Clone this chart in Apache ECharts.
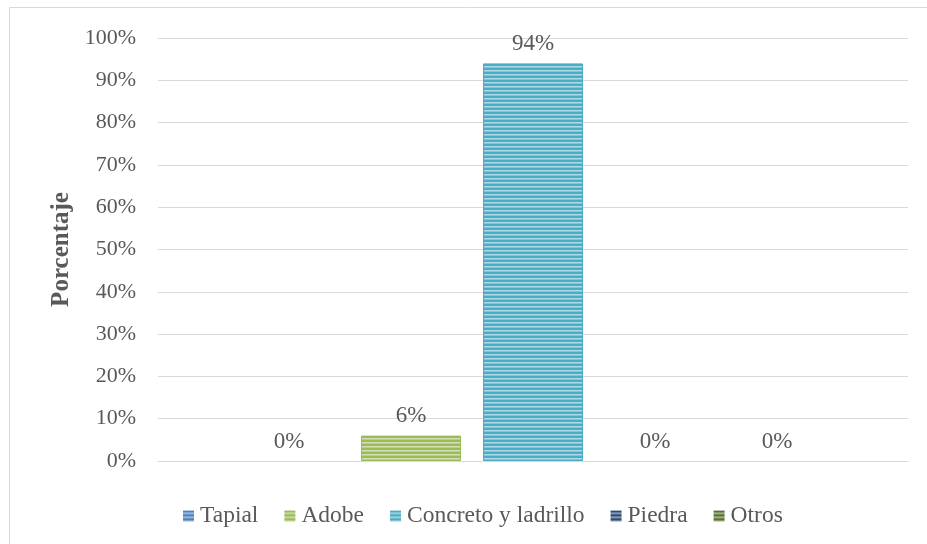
<!DOCTYPE html>
<html>
<head>
<meta charset="utf-8">
<script src="https://cdn.jsdelivr.net/npm/echarts@6/dist/echarts.min.js"></script>
<style>
  html, body { margin: 0; padding: 0; background: #fff; }
  #chart { width: 927px; height: 544px; }
</style>
</head>
<body>
<div id="chart"></div>
<script>
// data
const categories = [""];
const seriesNames = ["Tapial", "Adobe", "Concreto y ladrillo", "Piedra", "Otros"];
const seriesValues = [0, 0.06, 0.94, 0, 0];
const seriesColors = ["#4F81BD", "#9BBB59", "#4BACC6", "#2C4D75", "#5A7230"];
const yTicks = [0, 0.1, 0.2, 0.3, 0.4, 0.5, 0.6, 0.7, 0.8, 0.9, 1];

const FONT = '"Liberation Serif", "Times New Roman", serif';
const TEXT = "#595959";

// horizontal stripe fill like the office pattern
function mix(hex, t) {
  const n = parseInt(hex.slice(1), 16);
  const r = (n >> 16) & 255, g = (n >> 8) & 255, b = n & 255;
  const f = (c) => Math.round(c + (255 - c) * t);
  return `rgb(${f(r)},${f(g)},${f(b)})`;
}
function stripes(hex) {
  const c = document.createElement("canvas");
  c.width = 4;
  c.height = 4;
  const ctx = c.getContext("2d");
  ctx.fillStyle = hex;
  ctx.fillRect(0, 0, 4, 4);
  ctx.fillStyle = mix(hex, 0.55);
  ctx.fillRect(0, 2, 4, 1);
  ctx.fillStyle = mix(hex, 0.3);
  ctx.fillRect(0, 3, 4, 1);
  return { image: c, repeat: "repeat" };
}

const chart = echarts.init(document.getElementById("chart"));

const series = seriesNames.map((name, i) => ({
  name: name,
  type: "bar",
  // no outline on empty bars
  data: [{
    value: seriesValues[i],
    itemStyle: { borderWidth: seriesValues[i] > 0 ? 1 : 0 },
  }],
  barWidth: 100,
  barGap: "22%",
  itemStyle: {
    color: stripes(seriesColors[i]),
    borderColor: seriesColors[i],
  },
  label: {
    show: true,
    position: "top",
    distance: 8,
    color: TEXT,
    fontFamily: FONT,
    fontSize: 23,
    formatter: (p) => Math.round(p.value * 100) + "%",
  },
}));

chart.setOption({
  animation: false,
  color: seriesColors,
  graphic: [
    {
      type: "rect",
      shape: { x: 9.5, y: 7.5, width: 1000, height: 1000 },
      style: { fill: "none", stroke: "#d9d9d9", lineWidth: 1 },
    },
  ],
  grid: { left: 158, right: 19, top: 38, bottom: 83 },
  legend: {
    data: seriesNames,
    left: 178,
    top: 499,
    itemWidth: 11,
    itemHeight: 11,
    itemGap: 26,
    icon: "rect",
    textStyle: { color: TEXT, fontFamily: FONT, fontSize: 23.5, padding: [0, 0, 0, 1] },
  },
  xAxis: {
    type: "category",
    data: categories,
    axisLine: { lineStyle: { color: "#d9d9d9", width: 1 } },
    axisTick: { show: false },
    axisLabel: { show: false },
  },
  yAxis: {
    type: "value",
    min: yTicks[0],
    max: yTicks[yTicks.length - 1],
    interval: 0.1,
    name: "Porcentaje",
    nameLocation: "middle",
    nameRotate: 90,
    nameGap: 82,
    nameTextStyle: { color: TEXT, fontFamily: FONT, fontSize: 25, fontWeight: "bold" },
    axisLine: { show: false },
    axisTick: { show: false },
    axisLabel: {
      color: TEXT,
      fontFamily: FONT,
      fontSize: 22,
      margin: 22,
      formatter: (v) => Math.round(v * 100) + "%",
    },
    splitLine: { lineStyle: { color: "#d9d9d9", width: 1 } },
  },
  series: series,
});
</script>
</body>
</html>
